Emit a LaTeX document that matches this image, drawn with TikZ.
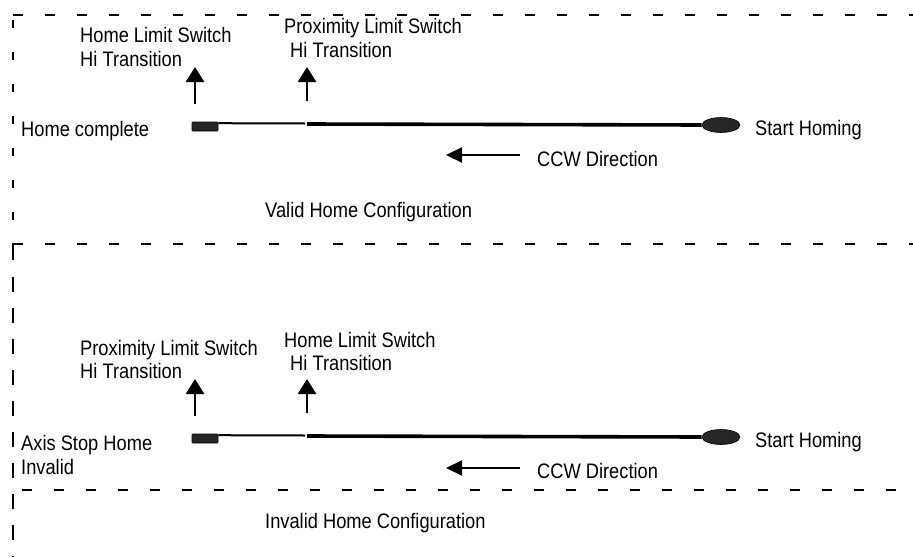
\documentclass[tikz,border=0pt]{standalone}
\usepackage{fontspec}
\setmainfont[FakeStretch=0.87]{Liberation Sans}
\usetikzlibrary{arrows.meta,shapes.geometric}

\tikzset{
  lbl/.style={anchor=base west,inner sep=0pt,font=\fontsize{21}{24}\selectfont},
  frameh/.style={line width=2.4pt,dash pattern=on 10pt off 22pt},
  framev/.style={line width=2.4pt,dash pattern=on 8pt off 24pt},
  framevb/.style={line width=2.4pt,dash pattern=on 15pt off 16pt},
  stopbox/.style={fill=black!85,draw=black,rounded corners=0.8pt,line width=0.6pt,
    minimum width=26pt,minimum height=9pt,inner sep=0pt},
  cam/.style={ellipse,fill=black!85,draw=black,line width=0.6pt,
    minimum width=38pt,minimum height=15pt,inner sep=0pt},
  slow/.style={line width=2pt},
  fast/.style={line width=3.6pt},
  hit/.style={line width=2.8pt,-{Triangle[width=18pt,length=15pt]}},
  dir/.style={line width=2.2pt,-{Triangle[width=15pt,length=16pt]}}
}

\begin{document}
\begin{tikzpicture}[x=1pt,y=-1pt]
  \useasboundingbox (0,0) rectangle (913,557);

  \draw[frameh] (13,15) -- (913,15);
  \draw[framev] (13,20) -- (13,243);
  \draw[line width=2.4pt] (13,260) -- (13,244) -- (23,244);
  \draw[frameh] (45,244) -- (913,244);
  \draw[framevb] (13,277) -- (13,557);
  \draw[frameh] (22,490) -- (900,490);

  \begin{scope}
    \node[stopbox] (stop) at (205,126.5) {};
    \node[cam] (home) at (721,125) {};
    \coordinate (gap) at (305,123.5);
    \coordinate (fastin) at (307,124);
    \draw[slow] (stop.north east) ++(0,1.5) -- (gap);
    \draw[fast] (fastin) -- (home.west);
    \coordinate (t1) at (195,104);
    \coordinate (t1h) at (195,67);
    \coordinate (t2) at (307,101);
    \coordinate (t2h) at (307,67);
    \draw[hit] (t1) -- (t1h);
    \draw[hit] (t2) -- (t2h);
    \coordinate (ccw) at (520,155);
    \coordinate (ccwh) at (446,155);
    \draw[dir] (ccw) -- (ccwh);
    \node[lbl] (first) at (80,42) {Home Limit Switch};
    \node[lbl] (firsthi) at (80,66) {Hi Transition};
    \node[lbl] (second) at (284,33) {Proximity Limit Switch};
    \node[lbl] (secondhi) at (290,57) {Hi Transition};
    \node[lbl] (done) at (21,136) {Home complete};
    \node[lbl] (begin) at (755,135) {Start Homing};
    \node[lbl] (dirlbl) at (537,166) {CCW Direction};
    \node[lbl] (config) at (265,217) {Valid Home Configuration};
  \end{scope}

  \begin{scope}[yshift=-312pt]
    \node[stopbox] (stop) at (205,126.5) {};
    \node[cam] (home) at (721,125) {};
    \coordinate (gap) at (305,123.5);
    \coordinate (fastin) at (307,124);
    \draw[slow] (stop.north east) ++(0,1.5) -- (gap);
    \draw[fast] (fastin) -- (home.west);
    \coordinate (t1) at (195,104);
    \coordinate (t1h) at (195,67);
    \coordinate (t2) at (307,101);
    \coordinate (t2h) at (307,67);
    \draw[hit] (t1) -- (t1h);
    \draw[hit] (t2) -- (t2h);
    \coordinate (ccw) at (520,156);
    \coordinate (ccwh) at (446,156);
    \draw[dir] (ccw) -- (ccwh);
    \node[lbl] (first) at (80,43) {Proximity Limit Switch};
    \node[lbl] (firsthi) at (80,66) {Hi Transition};
    \node[lbl] (second) at (284,35) {Home Limit Switch};
    \node[lbl] (secondhi) at (290,58) {Hi Transition};
    \node[lbl] (done) at (21,138) {Axis Stop Home};
    \node[lbl] (donebis) at (21,162) {Invalid};
    \node[lbl] (begin) at (755,135) {Start Homing};
    \node[lbl] (dirlbl) at (537,166) {CCW Direction};
    \node[lbl] (config) at (265,216) {Invalid Home Configuration};
  \end{scope}
\end{tikzpicture}
\end{document}
